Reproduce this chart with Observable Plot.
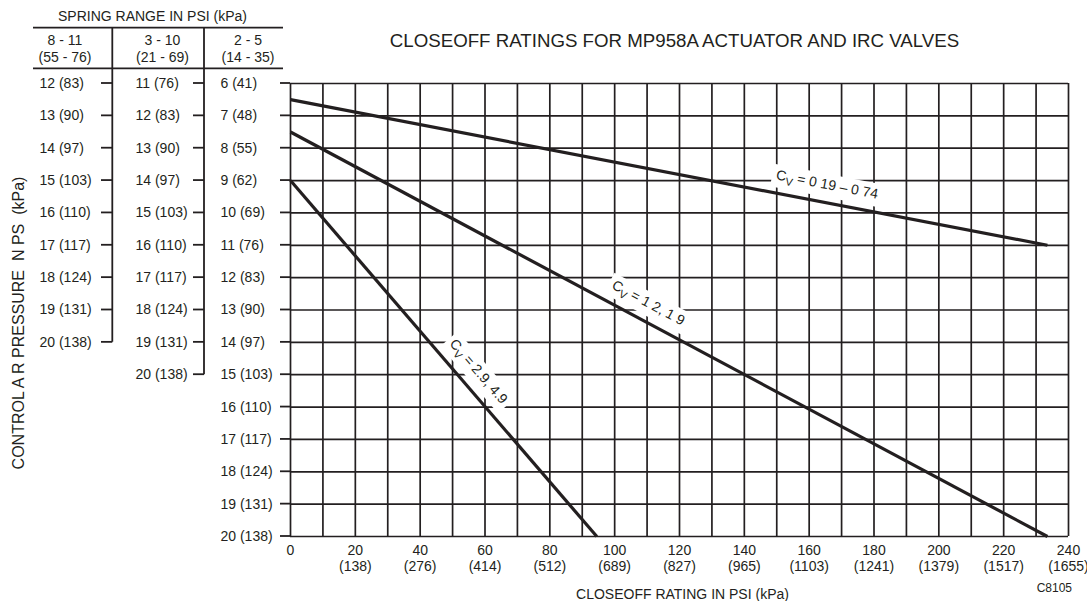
<!DOCTYPE html>
<html><head><meta charset="utf-8">
<script src="https://cdn.jsdelivr.net/npm/d3@7"></script>
<script src="https://cdn.jsdelivr.net/npm/@observablehq/plot@0.6"></script>
<style>
html,body{margin:0;padding:0;background:#fff;}
svg text{font-family:"Liberation Sans",Arial,Helvetica,sans-serif;}
</style></head><body><div id="chart"></div>
<script>
// ---------- data ----------
const rows = [6,7,8,9,10,11,12,13,14,15,16,17,18,19,20];           // control air pressure, 2-5 psi spring (psi)
const col3Labels = ["6 (41)","7 (48)","8 (55)","9 (62)","10 (69)","11 (76)","12 (83)","13 (90)","14 (97)","15 (103)","16 (110)","17 (117)","18 (124)","19 (131)","20 (138)"];
const col2Rows = [6,7,8,9,10,11,12,13,14,15];
const col2Labels = ["11 (76)","12 (83)","13 (90)","14 (97)","15 (103)","16 (110)","17 (117)","18 (124)","19 (131)","20 (138)"];
const col1Rows = [6,7,8,9,10,11,12,13,14];
const col1Labels = ["12 (83)","13 (90)","14 (97)","15 (103)","16 (110)","17 (117)","18 (124)","19 (131)","20 (138)"];
const springHeads = ["8 - 11","3 - 10","2 - 5"];
const springHeadsKpa = ["(55 - 76)","(21 - 69)","(14 - 35)"];
const xTicks = [0,20,40,60,80,100,120,140,160,180,200,220,240];
const xTickLabels = ["0","20\n(138)","40\n(276)","60\n(414)","80\n(512)","100\n(689)","120\n(827)","140\n(965)","160\n(1103)","180\n(1241)","200\n(1379)","220\n(1517)","240\n(1655)"];
const gridX = [0,10,20,30,40,50,60,70,80,90,100,110,120,130,140,150,160,170,180,190,200,210,220,230,240];
const seriesNames = ["CV = 0 19 – 0 74","CV = 1 2, 1 9","CV = 2.9, 4.9"];
const closeoffStart = [0,0,0];
const closeoffEnd = [233.5,233.5,94.5];
const pressureStart = [6.5,7.5,9.0];
const pressureEnd = [11,20,20];
const labelAt = [164.5,107.8,53.8];

// ---------- layout ----------
const W = 1087, H = 601, ML = 290, MR = 19, MT = 83, MB = 65;
const INK = "#231f20";
const FONT = '"Liberation Sans", Arial, Helvetica, sans-serif';
const kx = (W - ML - MR) / 240, ky = (H - MT - MB) / 14;

const lineData = [];
seriesNames.forEach((s, i) => {
  lineData.push({series: s, closeoff: closeoffStart[i], pressure: pressureStart[i]});
  lineData.push({series: s, closeoff: closeoffEnd[i], pressure: pressureEnd[i]});
});

const labelMarks = seriesNames.map((s, i) => {
  const ang = Math.atan2((pressureEnd[i] - pressureStart[i]) * ky, (closeoffEnd[i] - closeoffStart[i]) * kx);
  const t = (labelAt[i] - closeoffStart[i]) / (closeoffEnd[i] - closeoffStart[i]);
  const rec = {text: s, closeoff: labelAt[i], pressure: pressureStart[i] + t * (pressureEnd[i] - pressureStart[i])};
  const off = 18;
  return Plot.text([rec], {x: "closeoff", y: "pressure", text: "text", rotate: ang * 180 / Math.PI,
    dx: off * Math.sin(ang), dy: -off * Math.cos(ang), fontSize: 14, fill: INK});
});

const plot = Plot.plot({
  width: W, height: H, marginLeft: ML, marginRight: MR, marginTop: MT, marginBottom: MB,
  x: {domain: [0, 240], axis: null},
  y: {domain: [20, 6], axis: null},
  style: {fontFamily: FONT, fontSize: "14px", color: INK, background: "white", overflow: "visible"},
  marks: [
    Plot.ruleX(gridX, {x: d => d, y1: () => 6, y2: () => 20, stroke: INK, strokeWidth: 1.7}),
    Plot.ruleY(rows, {y: d => d, x1: () => 0, x2: () => 240, stroke: INK, strokeWidth: 1.7}),
    ...labelMarks,
    Plot.line(lineData, {x: "closeoff", y: "pressure", z: "series", stroke: INK, strokeWidth: 3.2, strokeLinecap: "butt"}),
    Plot.text(rows, {y: d => d, text: (d, i) => col3Labels[i], frameAnchor: "left", dx: -70, textAnchor: "start", fill: INK, fontSize: 14}),
    Plot.text(col2Rows, {y: d => d, text: (d, i) => col2Labels[i], frameAnchor: "left", dx: -155, textAnchor: "start", fill: INK, fontSize: 14}),
    Plot.text(col1Rows, {y: d => d, text: (d, i) => col1Labels[i], frameAnchor: "left", dx: -251, textAnchor: "start", fill: INK, fontSize: 14}),
    Plot.text(xTicks, {x: d => d, text: (d, i) => xTickLabels[i], frameAnchor: "bottom", dy: 6, lineAnchor: "top", lineHeight: 1.21, textAnchor: "middle", fill: INK, fontSize: 14})
  ]
});
document.getElementById("chart").appendChild(plot);

const svg = d3.select(plot);
const ys = plot.scale("y");

// subscript V and white boxes behind the Cv labels
svg.selectAll("text").filter(function() { return this.textContent.startsWith("CV "); }).each(function() {
  const s = this.textContent;
  const t = d3.select(this);
  t.text(null);
  t.append("tspan").text("C");
  t.append("tspan").attr("font-size", 11).attr("dy", 4).text("V");
  t.append("tspan").attr("dy", -4).text(s.slice(2));
  const bb = this.getBBox();
  const node = this;
  d3.select(this.parentNode).insert("rect", () => node)
    .attr("x", bb.x - 4).attr("y", bb.y - 2).attr("width", bb.width + 8).attr("height", bb.height + 4)
    .attr("transform", this.getAttribute("transform")).attr("fill", "white").attr("stroke", "none");
});

// left spring-range table: ticks and rules
const g = svg.append("g").attr("stroke", INK).attr("stroke-width", 1.8).attr("fill", "none");
rows.forEach(r => g.append("line").attr("x1", 280).attr("x2", ML).attr("y1", ys.apply(r)).attr("y2", ys.apply(r)));
col2Rows.forEach(r => g.append("line").attr("x1", 193).attr("x2", 204).attr("y1", ys.apply(r)).attr("y2", ys.apply(r)));
col1Rows.forEach(r => g.append("line").attr("x1", 101).attr("x2", 112.3).attr("y1", ys.apply(r)).attr("y2", ys.apply(r)));
g.append("line").attr("x1", 112.3).attr("x2", 112.3).attr("y1", 27.7).attr("y2", ys.apply(col1Rows[col1Rows.length - 1]));
g.append("line").attr("x1", 204).attr("x2", 204).attr("y1", 27.7).attr("y2", ys.apply(col2Rows[col2Rows.length - 1]));
g.append("line").attr("x1", 33).attr("x2", 283).attr("y1", 27.7).attr("y2", 27.7);
g.append("line").attr("x1", 33).attr("x2", 283).attr("y1", 68.3).attr("y2", 68.3);

// texts
const tg = svg.append("g").attr("fill", INK).attr("font-family", FONT);
function txt(x, y, s, size, anchor, rot) {
  const t = tg.append("text").attr("font-size", size).attr("text-anchor", anchor || "middle").style("white-space", "pre").text(s);
  if (rot) t.attr("transform", `translate(${x},${y}) rotate(${rot})`); else t.attr("x", x).attr("y", y);
  return t;
}
txt(152.5, 20.5, "SPRING RANGE IN PSI (kPa)", 14);
const headX = [65, 162.5, 248];
springHeads.forEach((s, i) => { txt(headX[i], 45, s, 14); txt(headX[i], 62, springHeadsKpa[i], 14); });
txt(674.5, 47, "CLOSEOFF RATINGS FOR MP958A ACTUATOR AND IRC VALVES", 18.7);
txt(24, 323, "CONTROL A R PRESSURE  N PS  (kPa)", 16, "middle", -90);
txt(682.5, 599, "CLOSEOFF RATING IN PSI (kPa)", 14);
txt(1072, 592, "C8105", 12, "end");
</script></body></html>
